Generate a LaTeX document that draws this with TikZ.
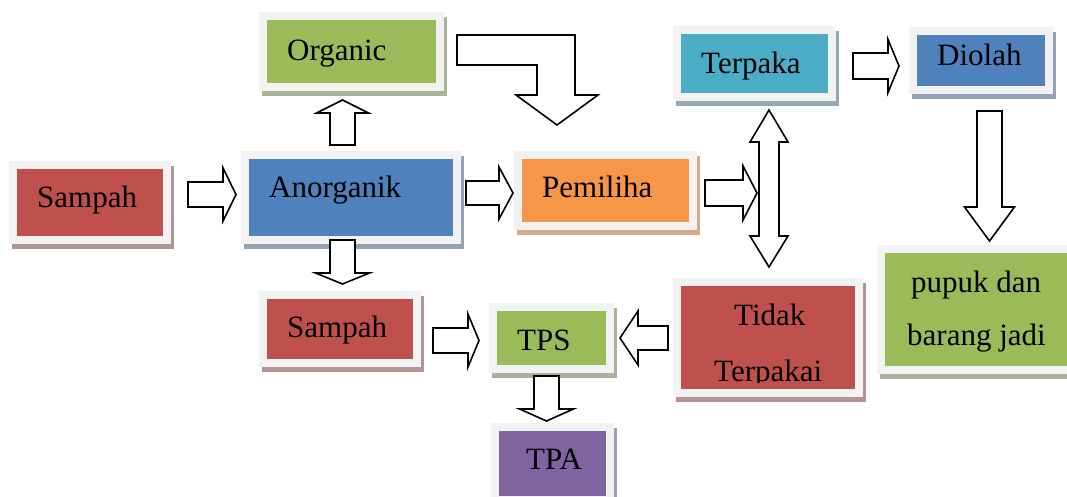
\documentclass[tikz,border=0pt]{standalone}
\usepackage{fontspec}
\setmainfont{Liberation Serif}
\definecolor{framegray}{HTML}{F2F2F2}
\definecolor{cred}{HTML}{C0504D}
\definecolor{cgreen}{HTML}{9BBB59}
\definecolor{cblue}{HTML}{4F81BD}
\definecolor{corange}{HTML}{F79646}
\definecolor{cteal}{HTML}{4BACC6}
\definecolor{cpurple}{HTML}{8064A2}
\definecolor{sred}{HTML}{B39494}
\definecolor{sgreen}{HTML}{A9B39C}
\definecolor{sblue}{HTML}{93A2B4}
\definecolor{sorange}{HTML}{D3AA8C}
\definecolor{steal}{HTML}{90A9B3}
\definecolor{spurple}{HTML}{A29CB2}
\tikzset{
  bx/.style 2 args={rectangle, inner sep=0pt, fill=framegray, draw=none,
    preaction={fill=#2, transform canvas={shift={(3pt,-5pt)}}},
    path picture={\fill[#1] ([shift={(8pt,-8pt)}]path picture bounding box.north west) rectangle ([shift={(-8pt,8pt)}]path picture bounding box.south east);}},
  lbl/.style={inner sep=0pt, anchor=base west, font=\fontsize{31}{37}\selectfont},
  barrow/.style={draw=black, fill=white, line width=1.6pt, line join=miter}
}
\newcommand{\harr}[6]{\draw[barrow] (#1,{#3-#4/2}) -- ({#2-(#6)},{#3-#4/2}) -- ({#2-(#6)},{#3-#5/2}) -- (#2,#3) -- ({#2-(#6)},{#3+#5/2}) -- ({#2-(#6)},{#3+#4/2}) -- (#1,{#3+#4/2}) -- cycle;}
\newcommand{\varr}[6]{\draw[barrow] ({#3-#4/2},#1) -- ({#3-#4/2},{#2-(#6)}) -- ({#3-#5/2},{#2-(#6)}) -- (#3,#2) -- ({#3+#5/2},{#2-(#6)}) -- ({#3+#4/2},{#2-(#6)}) -- ({#3+#4/2},#1) -- cycle;}
\begin{document}
\begin{tikzpicture}[x=1pt,y=-1pt]
\clip (0,0) rectangle (1067,496);
\fill[white] (0,0) rectangle (1067,496);
% boxes
\node[bx={cred}{sred}, minimum width=162pt, minimum height=83pt] (sampah1) at (90,202.5) {};
\node[bx={cgreen}{sgreen}, minimum width=185pt, minimum height=79pt] (organic) at (351.5,51.5) {};
\node[bx={cblue}{sblue}, minimum width=220pt, minimum height=93pt] (anorg) at (351,197.5) {};
\node[bx={corange}{sorange}, minimum width=183pt, minimum height=79pt] (pemiliha) at (605.5,190.5) {};
\node[bx={cteal}{steal}, minimum width=163pt, minimum height=75pt] (terpaka) at (754.5,63.5) {};
\node[bx={cblue}{sblue}, minimum width=144pt, minimum height=67pt] (diolah) at (981,60.5) {};
\node[bx={cred}{sred}, minimum width=162pt, minimum height=76pt] (sampah2) at (340,329) {};
\node[bx={cgreen}{sgreen}, minimum width=125pt, minimum height=70pt] (tps) at (551.5,338) {};
\node[bx={cpurple}{spurple}, minimum width=123pt, minimum height=81pt] (tpa) at (552.5,463.5) {};
\node[bx={cred}{sred}, minimum width=190pt, minimum height=119pt] (tidak) at (768,337.5) {};
\node[bx={cgreen}{sgreen}, minimum width=203pt, minimum height=129pt] (pupuk) at (978.5,309.5) {};
% labels
\node[lbl] (t-sampah1) at (37,207) {Sampah};
\node[lbl] (t-organic) at (287,60) {Organic};
\node[lbl] (t-anorg) at (269,197) {Anorganik};
\node[lbl] (t-pemiliha) at (542,197) {Pemiliha};
\node[lbl] (t-terpaka) at (701,73) {Terpaka};
\node[lbl] (t-diolah) at (937,65) {Diolah};
\node[lbl] (t-sampah2) at (287,337) {Sampah};
\node[lbl] (t-tps) at (517,350) {TPS};
\node[lbl] (t-tpa) at (526,469) {TPA};
\node[lbl] (t-pupuk1) at (911,292) {pupuk dan};
\node[lbl] (t-pupuk2) at (907,345) {barang jadi};
\begin{scope}
\clip (681,287) rectangle (855,382);
\node[lbl] (t-tidak1) at (734,325) {Tidak};
\node[lbl] (t-tidak2) at (714,381.5) {Terpakai};
\end{scope}
% block arrows
\harr{188}{236}{194.5}{25}{53}{13}
\harr{466}{513}{193}{24}{52}{14}
\harr{433}{479}{340.5}{25}{53}{11}
\harr{668}{620}{338}{24}{54}{-18}
\harr{705}{757}{193}{26}{54}{14}
\harr{853}{899}{66}{26}{53}{11}
\varr{145}{100}{342.5}{25}{52}{-13}
\varr{240}{284}{342.5}{25}{54}{11}
\varr{376}{421}{546.5}{25}{54}{12}
\varr{111}{241}{989.5}{25}{50}{34}
% double arrow
\draw[barrow] (769,110) -- (788,142) -- (779,142) -- (779,236) -- (788,236) -- (769,267) -- (750,236) -- (759,236) -- (759,142) -- (750,142) -- cycle;
% bent arrow
\draw[barrow] (457,35) -- (575,35) -- (575,95) -- (598,95) -- (557,125) -- (516,95) -- (537,95) -- (537,65) -- (457,65) -- cycle;
\end{tikzpicture}
\end{document}
